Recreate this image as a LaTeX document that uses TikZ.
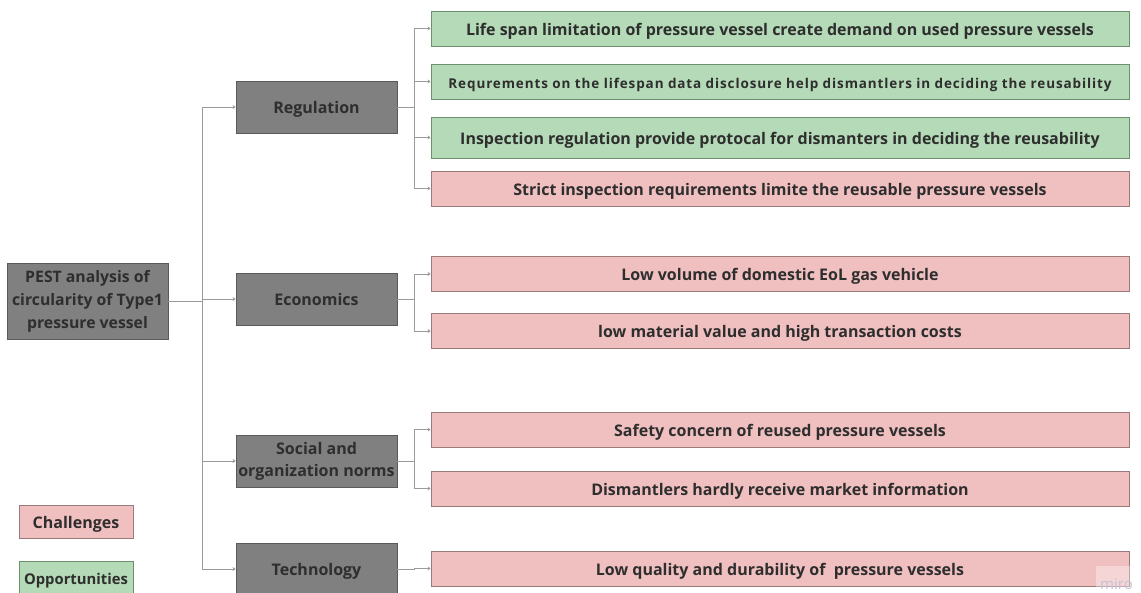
\documentclass[tikz,border=0pt]{standalone}
\usepackage{fontspec}
\setmainfont{Open Sans}
\newfontfamily\spacedfont[LetterSpace=6.5]{Open Sans}
\usetikzlibrary{arrows.meta}
\definecolor{catfill}{HTML}{808080}
\definecolor{catline}{HTML}{5A5A5A}
\definecolor{opfill}{HTML}{B4DAB7}
\definecolor{opline}{HTML}{6E8F70}
\definecolor{chfill}{HTML}{F0BFBF}
\definecolor{chline}{HTML}{9A7A7A}
\definecolor{txt}{HTML}{2E2E2E}
\definecolor{wire}{HTML}{9A9A9A}
\definecolor{markc}{HTML}{C4C2D6}
\tikzset{
  box/.style={draw, line width=0.8pt, align=center, inner sep=0pt, text=txt,
    font=\bfseries},
  oneline/.style={text height=15.5pt, text depth=2.4pt},
  catbox/.style={box, fill=catfill, draw=catline, minimum width=161pt,
    minimum height=52pt, font=\bfseries\fontsize{16}{19}\selectfont},
  leaf/.style={box, oneline, minimum width=698pt, minimum height=35pt,
    font=\bfseries\fontsize{16}{19}\selectfont},
  opp/.style={leaf, fill=opfill, draw=opline},
  chal/.style={leaf, fill=chfill, draw=chline},
  wireline/.style={draw=wire, line width=0.8pt},
  tip/.style={wireline, -{Stealth[length=3pt,width=4pt]}},
  legendbox/.style={box, oneline, minimum width=114pt, minimum height=33pt,
    font=\bfseries\fontsize{16}{19}\selectfont}
}
\begin{document}
\begin{tikzpicture}[x=1pt,y=-1pt]
\useasboundingbox (0,0) rectangle (1141,592);
\clip (0,0) rectangle (1141,592);

% root
\node[box, fill=catfill, draw=catline, minimum width=161pt, minimum height=76pt,
  font=\bfseries\fontsize{15.8}{23}\selectfont] (root) at (87.5,301)
  {PEST analysis of\\circularity of Type1\\pressure vessel};

% categories
\node[catbox, oneline] (reg) at (316.5,107) {Regulation};
\node[catbox, oneline] (eco) at (316.5,299) {Economics};
\node[catbox, font=\bfseries\fontsize{16}{22}\selectfont] (soc) at (316.5,461)
  {Social and\\organization norms};
\node[catbox, oneline] (tec) at (316.5,569) {Technology};

% regulation leaves
\node[opp] (r1) at (780,28.5) {Life span limitation of pressure vessel create demand on used pressure vessels};
\node[opp, font=\bfseries\spacedfont\fontsize{13.5}{16}\selectfont] (r2) at (780,81.5)
  {Requrements on the lifespan data disclosure help dismantlers in deciding the reusability};
\node[opp, minimum height=41pt] (r3) at (780,137.5) {Inspection regulation provide protocal for dismanters in deciding the reusability};
\node[chal] (r4) at (780,188.5) {Strict inspection requirements limite the reusable pressure vessels};

% economics leaves
\node[chal] (e1) at (780,274) {Low volume of domestic EoL gas vehicle};
\node[chal] (e2) at (780,331) {low material value and high transaction costs};

% social leaves
\node[chal] (s1) at (780,429.5) {Safety concern of reused pressure vessels};
\node[chal] (s2) at (780,488.5) {Dismantlers hardly receive market information};

% technology leaf
\node[chal] (t1) at (780,568.5) {Low quality and durability of\ \ pressure vessels};

% legend
\node[legendbox, fill=chfill, draw=chline] (lc) at (76,521.5) {Challenges};
\node[legendbox, fill=opfill, draw=opline, font=\bfseries\fontsize{14.8}{17}\selectfont]
  (lo) at (76,578) {Opportunities};

% root to categories
\draw[wireline, draw=catline] (root.east) -- (202,301);
\foreach \c in {reg,eco,soc,tec}
  \draw[tip] (root.east) -- ++(34,0) |- (\c.west);

% categories to leaves
\foreach \c/\ls in {reg/{r1,r2,r3,r4}, eco/{e1,e2}, soc/{s1,s2}, tec/{t1}}{
  \draw[wireline, draw=catline, line width=1pt] (\c.east) -- ++(17,0);
  \foreach \l in \ls
    \draw[tip] (\c.east) -- ++(17,0) |- (\l.west);
}

% miro mark
\fill[white, opacity=0.35] (1096,566) rectangle (1141,592);
\node[text=markc, font=\fontsize{15}{15}\selectfont, anchor=south west,
  inner sep=0pt] (mark) at (1100,590) {miro};
\end{tikzpicture}
\end{document}
